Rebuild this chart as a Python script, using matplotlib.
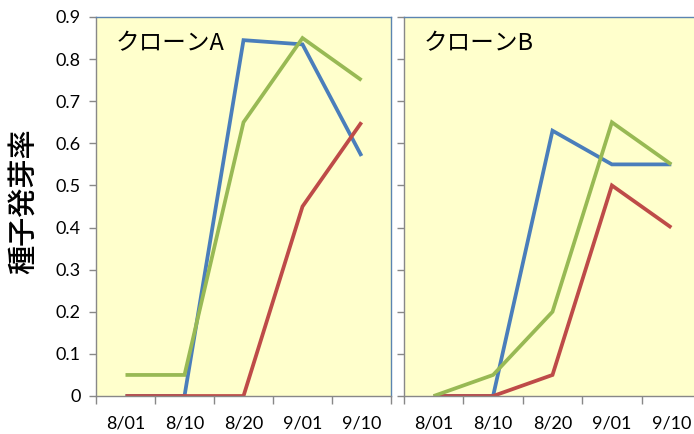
import numpy as np
import matplotlib.pyplot as plt
from matplotlib.ticker import FixedLocator, NullFormatter

plt.rcParams['font.family'] = ['Lato', 'Noto Sans CJK JP', 'DejaVu Sans']

dates = ['8/01', '8/10', '8/20', '9/01', '9/10']
y_ticks = [0, 0.1, 0.2, 0.3, 0.4, 0.5, 0.6, 0.7, 0.8, 0.9]
y_tick_labels = ['0', '0.1', '0.2', '0.3', '0.4', '0.5', '0.6', '0.7', '0.8', '0.9']

clone_a_blue = [0, 0, 0.845, 0.835, 0.57]
clone_a_red = [0, 0, 0, 0.45, 0.65]
clone_a_green = [0.05, 0.05, 0.65, 0.85, 0.75]

clone_b_blue = [0, 0, 0.63, 0.55, 0.55]
clone_b_red = [0, 0, 0.05, 0.5, 0.4]
clone_b_green = [0, 0.05, 0.2, 0.65, 0.55]

panels = [('クローンA', clone_a_blue, clone_a_red, clone_a_green),
          ('クローンB', clone_b_blue, clone_b_red, clone_b_green)]

W, H = 694, 434
fig = plt.figure(figsize=(W / 100, H / 100), dpi=100)
ax_a = fig.add_axes([96 / W, 1 - 396 / H, 295 / W, 379 / H])
ax_b = fig.add_axes([404 / W, 1 - 396 / H, 297 / W, 379 / H])

x = np.arange(len(dates))
for ax, (title, blue, red, green) in zip([ax_a, ax_b], panels):
    ax.set_facecolor('#ffffcc')
    ax.plot(x, blue, color='#4a7ebb', lw=2.7, solid_capstyle='butt', solid_joinstyle='miter')
    ax.plot(x, red, color='#be4b48', lw=2.7, solid_capstyle='butt', solid_joinstyle='miter')
    ax.plot(x, green, color='#98b954', lw=2.7, solid_capstyle='butt', solid_joinstyle='miter')
    ax.set_xlim(-0.5, len(dates) - 0.5)
    ax.set_ylim(0, 0.9)
    ax.set_xticks(x)
    ax.set_xticklabels(dates, fontsize=13)
    ax.tick_params(axis='x', which='major', length=0, pad=14)
    ax.xaxis.set_minor_locator(FixedLocator(np.arange(-0.5, len(dates), 1.0)))
    ax.xaxis.set_minor_formatter(NullFormatter())
    ax.tick_params(axis='x', which='minor', length=6, color='#888888', width=1)
    ax.set_yticks(y_ticks)
    ax.tick_params(axis='y', length=5, color='#888888', width=1, labelsize=13, pad=6)
    for side in ['left', 'bottom']:
        ax.spines[side].set_color('#888888')
        ax.spines[side].set_linewidth(1)
    for side in ['top', 'right']:
        ax.spines[side].set_color('#5b84b1')
        ax.spines[side].set_linewidth(1)
    ax.text(0.065, 0.93, title, transform=ax.transAxes, fontsize=17,
            family=['Noto Sans CJK JP', 'DejaVu Sans'], va='center', ha='left')

ax_a.set_yticklabels(y_tick_labels)
ax_b.set_yticklabels([])
ax_a.set_ylabel('種子発芽率', fontsize=21, family=['Noto Sans CJK JP', 'DejaVu Sans'],
                weight='medium', va='center')
ax_a.yaxis.set_label_coords(-0.245, 0.515)

fig.savefig('out.png', dpi=100)
